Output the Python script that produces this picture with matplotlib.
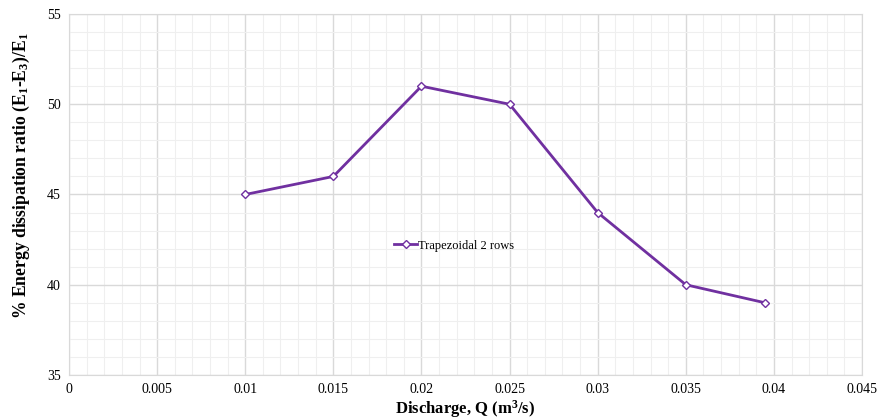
import matplotlib
matplotlib.use("Agg")
import matplotlib.pyplot as plt
from matplotlib.ticker import MultipleLocator

plt.rcParams['font.family'] = ['Liberation Serif', 'DejaVu Serif']
plt.rcParams['mathtext.fontset'] = 'custom'
plt.rcParams['mathtext.rm'] = 'Liberation Serif:bold'
plt.rcParams['mathtext.bf'] = 'Liberation Serif:bold'
plt.rcParams['mathtext.default'] = 'bf'

discharge = [0.01, 0.015, 0.02, 0.025, 0.03, 0.035, 0.0395]
energy_ratio = [45, 46, 51, 50, 44, 40, 39]
series_name = 'Trapezoidal 2 rows'
xtick_vals = [0, 0.005, 0.01, 0.015, 0.02, 0.025, 0.03, 0.035, 0.04, 0.045]
xtick_text = ['0', '0.005', '0.01', '0.015', '0.02', '0.025', '0.03', '0.035', '0.04', '0.045']

fig = plt.figure(figsize=(8.77, 4.18), dpi=100)
ax = fig.add_axes([0.0787, 0.1029, 0.9042, 0.8636])

ax.plot(discharge, energy_ratio, color='#7030A0', linewidth=2.0, marker='D',
        markersize=3.8, markerfacecolor='white', markeredgecolor='#7030A0',
        markeredgewidth=1.0, label=series_name)

ax.set_xlim(0, 0.045)
ax.set_ylim(35, 55)
ax.xaxis.set_minor_locator(MultipleLocator(0.001))
ax.yaxis.set_major_locator(MultipleLocator(5))
ax.yaxis.set_minor_locator(MultipleLocator(1))
ax.set_xticks(xtick_vals)
ax.set_xticklabels(xtick_text)

ax.grid(which='major', color='#d9d9d9', linewidth=1.0)
ax.grid(which='minor', color='#efefef', linewidth=0.8)
ax.set_axisbelow(True)
ax.tick_params(which='both', length=0, labelsize=10, pad=6)
for s in ax.spines.values():
    s.set_color('#d9d9d9')

ax.set_xlabel('Discharge, Q (m$^3$/s)', fontsize=12, fontweight='bold', labelpad=1)
ax.set_ylabel('% Energy dissipation ratio (E$_1$-E$_3$)/E$_1$', fontsize=12.7,
              fontweight='bold')
ax.yaxis.set_label_coords(-0.047, 0.553)

ax.legend(loc='center', bbox_to_anchor=(0.486, 0.358), frameon=False, fontsize=9,
          handlelength=1.8, handletextpad=0.1)

plt.savefig('out.png', dpi=100)
